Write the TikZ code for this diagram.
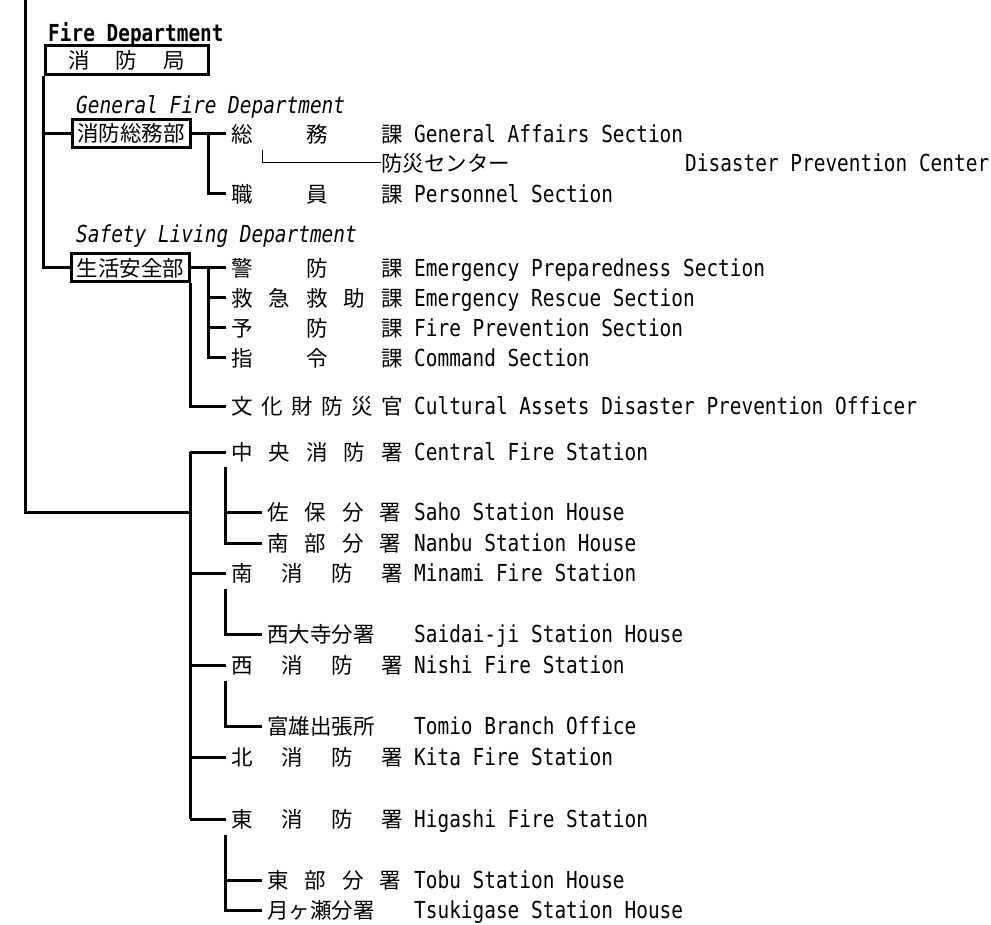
\documentclass[tikz,border=0pt]{standalone}
\usepackage{fontspec}
\newfontfamily\jp{Noto Sans CJK JP}
\newfontfamily\en[FakeStretch=0.83]{DejaVu Sans Mono}
\newcommand\jk[1]{\kern#1pt}
\tikzset{
  jt/.style={inner sep=0pt, anchor=west, font=\jp\fontsize{21.5}{21.5}\selectfont},
  et/.style={inner sep=0pt, anchor=base west, font=\en\fontsize{23.4}{23.4}\selectfont},
  etb/.style={et, font=\en\bfseries\fontsize{23.4}{23.4}\selectfont},
  eti/.style={et, font=\en\itshape\fontsize{23.4}{23.4}\selectfont},
  orgbox/.style={draw, line width=3pt, inner sep=0pt, font=\jp\fontsize{21.5}{21.5}\selectfont},
  link/.style={line width=3pt},
  thinlink/.style={line width=1pt},
}
\begin{document}
\begin{tikzpicture}[x=1pt,y=-1pt]
\fill[white] (0,0) rectangle (991,925);
\useasboundingbox (0,0) rectangle (991,925);

% helper x positions
\coordinate (c-top) at (25,0);
\coordinate (trunkx) at (190,0);
\coordinate (midx) at (208,0);
\coordinate (subx) at (225,0);
\coordinate (secx) at (226,0);
\coordinate (subend) at (262,0);
\coordinate (thinx) at (262,0);

% header
\node[etb] (fdlabel) at (48,42) {Fire Department};
\node[orgbox, minimum width=163pt, minimum height=29pt] (fd) at (126.5,60) {消\jk{26}防\jk{26}局};

% General Fire Department
\node[eti] (galabel) at (76,114) {General Fire Department};
\node[orgbox, minimum width=118pt, minimum height=28pt] (ga) at (131,133.75) {消防総務部};
\node[jt] (soumu) at (231,134) {総\jk{53.5}務\jk{53.5}課};
\node[et] (e-soumu) at (414,142.5) {General Affairs Section};
\node[jt] (bosai) at (381,163) {防災センター};
\node[et] (e-bosai) at (685,171.5) {Disaster Prevention Center};
\node[jt] (shokuin) at (231,194) {職\jk{53.5}員\jk{53.5}課};
\node[et] (e-shokuin) at (414,202.5) {Personnel Section};

% Safety Living Department
\node[eti] (sslabel) at (76,243) {Safety Living Department};
\node[orgbox, minimum width=117.5pt, minimum height=28pt] (ss) at (130.25,268) {生活安全部};
\node[jt] (keibo) at (231,268) {警\jk{53.5}防\jk{53.5}課};
\node[et] (e-keibo) at (414,276.5) {Emergency Preparedness Section};
\node[jt] (kyukyu) at (231,298) {救\jk{16}急\jk{16}救\jk{16}助\jk{16}課};
\node[et] (e-kyukyu) at (414,306.5) {Emergency Rescue Section};
\node[jt] (yobo) at (231,328) {予\jk{53.5}防\jk{53.5}課};
\node[et] (e-yobo) at (414,336.5) {Fire Prevention Section};
\node[jt] (shirei) at (231,358) {指\jk{53.5}令\jk{53.5}課};
\node[et] (e-shirei) at (414,366.5) {Command Section};
\node[jt] (bunka) at (231,406) {文\jk{8.5}化\jk{8.5}財\jk{8.5}防\jk{8.5}災\jk{8.5}官};
\node[et] (e-bunka) at (414,414.5) {Cultural Assets Disaster Prevention Officer};

% Fire stations
\node[jt] (chuo) at (231,452) {中\jk{16}央\jk{16}消\jk{16}防\jk{16}署};
\node[et] (e-chuo) at (414,460.5) {Central Fire Station};
\node[jt] (saho) at (267,512) {佐\jk{16}保\jk{16}分\jk{16}署};
\node[et] (e-saho) at (414,520.5) {Saho Station House};
\node[jt] (nanbu) at (267,543) {南\jk{16}部\jk{16}分\jk{16}署};
\node[et] (e-nanbu) at (414,551.5) {Nanbu Station House};
\node[jt] (minami) at (231,573) {南\jk{28.5}消\jk{28.5}防\jk{28.5}署};
\node[et] (e-minami) at (414,581.5) {Minami Fire Station};
\node[jt] (saidaiji) at (267,634) {西大寺分署};
\node[et] (e-saidaiji) at (414,642.5) {Saidai-ji Station House};
\node[jt] (nishi) at (231,665) {西\jk{28.5}消\jk{28.5}防\jk{28.5}署};
\node[et] (e-nishi) at (414,673.5) {Nishi Fire Station};
\node[jt] (tomio) at (267,726) {富雄出張所};
\node[et] (e-tomio) at (414,734.5) {Tomio Branch Office};
\node[jt] (kita) at (231,757) {北\jk{28.5}消\jk{28.5}防\jk{28.5}署};
\node[et] (e-kita) at (414,765.5) {Kita Fire Station};
\node[jt] (higashi) at (231,819) {東\jk{28.5}消\jk{28.5}防\jk{28.5}署};
\node[et] (e-higashi) at (414,827.5) {Higashi Fire Station};
\node[jt] (tobu) at (267,880) {東\jk{16}部\jk{16}分\jk{16}署};
\node[et] (e-tobu) at (414,888.5) {Tobu Station House};
\node[jt] (tsuki) at (267,910) {月ヶ瀬分署};
\node[et] (e-tsuki) at (414,918) {Tsukigase Station House};

% ---- connectors: top part
\draw[link] (fd.south west) -- (fd.south west |- ss.west) -- (ss.west);
\draw[link] (ga.west -| fd.south west) -- (ga.west);
\draw[link] (ga.east) -- (ga.east -| secx);
\draw[link] (ga.east -| midx) -- (shokuin.west -| midx) -- (shokuin.west -| secx);
\coordinate (bosai-up) at (262,150);
\draw[thinlink] (bosai-up) -- (bosai.west -| thinx) -- (bosai.west);
\draw[link] (ss.east) -- (ss.east -| secx);
\draw[link] (ss.east -| midx) -- (shirei.west -| midx) -- (shirei.west -| secx);
\draw[link] (kyukyu.west -| midx) -- (kyukyu.west -| secx);
\draw[link] (yobo.west -| midx) -- (yobo.west -| secx);
\draw[link] (ss.south east) -- (ss.south east |- bunka.west) -- (bunka.west -| secx);

% ---- connectors: stations
\draw[link] (c-top) -- (c-top |- saho.west) -- (saho.west -| trunkx);
\draw[link] (chuo.west -| trunkx) -- (higashi.west -| trunkx);
\foreach \s in {chuo,minami,nishi,kita,higashi}
  \draw[link] (\s.west -| trunkx) -- (\s.west -| secx);
\coordinate (chuo-d) at (225,467);
\coordinate (minami-d) at (225,589);
\coordinate (nishi-d) at (225,681);
\coordinate (higashi-d) at (225,835);
\draw[link] (chuo-d) -- (nanbu.west -| subx) -- (nanbu.west -| subend);
\draw[link] (saho.west -| subx) -- (saho.west -| subend);
\draw[link] (minami-d) -- (saidaiji.west -| subx) -- (saidaiji.west -| subend);
\draw[link] (nishi-d) -- (tomio.west -| subx) -- (tomio.west -| subend);
\draw[link] (higashi-d) -- (tsuki.west -| subx) -- (tsuki.west -| subend);
\draw[link] (tobu.west -| subx) -- (tobu.west -| subend);
\end{tikzpicture}
\end{document}
